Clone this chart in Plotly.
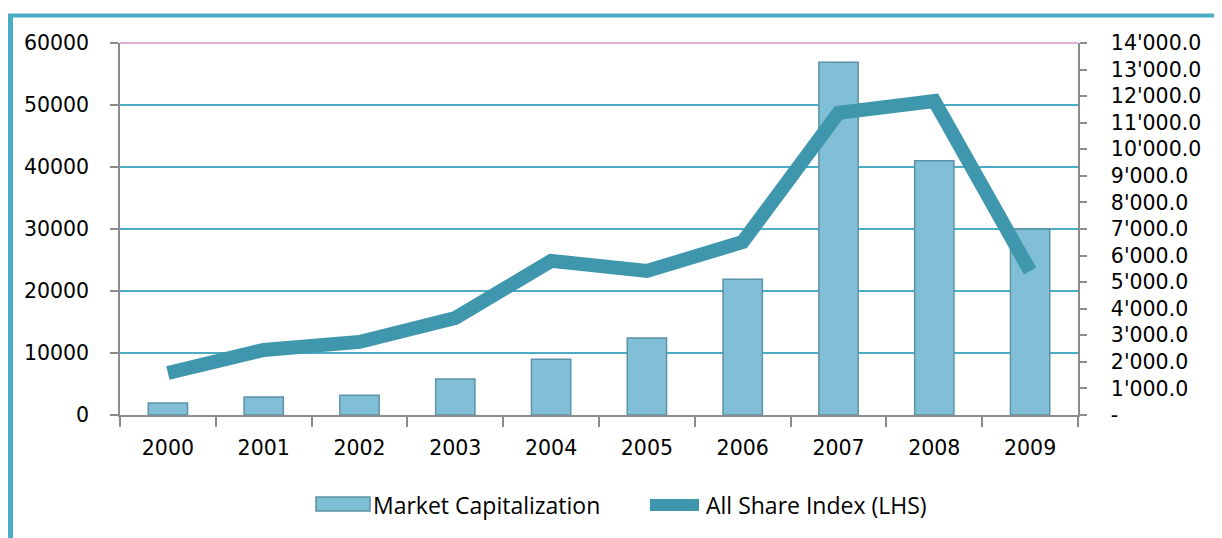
import plotly.graph_objects as go

years = ["2000", "2001", "2002", "2003", "2004", "2005", "2006", "2007", "2008", "2009"]
market_cap = [1950, 2900, 3200, 5800, 9000, 12400, 21900, 56900, 41000, 30000]
all_share_index = [1580, 2450, 2750, 3650, 5800, 5420, 6510, 11370, 11820, 5420]

right_ticks = list(range(0, 14001, 1000))
right_labels = ["-"] + [f"{v:,.1f}".replace(",", "'") for v in right_ticks[1:]]
left_ticks = list(range(0, 60001, 10000))

TEAL = "#4BACC6"
LINE = "#3F97AE"
BAR = "#80BFD5"
BAR_EDGE = "#5B93A8"
GREY = "#8C8C8C"
tick_font = dict(family="DejaVu Sans", size=20.5, color="#000000")
legend_font = dict(family="Open Sans", size=23, color="#000000")

# the page body adds an 8px offset; work in reference pixels and subtract it
OFF = 8
W, H = 1222 - OFF, 538 - OFF
PL, PR, PT, PB = 120, 1078, 43, 415  # plot area in reference pixels
L, T = PL - OFF, PT - OFF
R = W - (PR - OFF)
B = H - (PB - OFF)
pw, ph = PR - PL, PB - PT

def px_x(px):
    return (px - PL) / pw

def px_y(py):
    return (PB - py) / ph

fig = go.Figure()
fig.add_trace(go.Bar(
    x=years, y=market_cap, name="Market Capitalization",
    marker=dict(color=BAR, line=dict(color=BAR_EDGE, width=1.5)),
    width=0.41, yaxis="y", showlegend=False,
))
fig.add_trace(go.Scatter(
    x=years, y=all_share_index, name="All Share Index (LHS)",
    mode="lines", line=dict(color=LINE, width=14), yaxis="y2", showlegend=False,
))

shapes = [
    # outer frame (left and top edges)
    dict(type="line", xref="paper", yref="paper", x0=px_x(10.5), x1=px_x(10.5),
         y0=px_y(14), y1=px_y(560), line=dict(color=TEAL, width=5), layer="below"),
    dict(type="line", xref="paper", yref="paper", x0=px_x(8), x1=px_x(1240),
         y0=px_y(15.5), y1=px_y(15.5), line=dict(color=TEAL, width=4), layer="below"),
    # top border of plot area
    dict(type="line", xref="paper", yref="paper", x0=0, x1=1, y0=1, y1=1,
         line=dict(color="#E3AFD3", width=2), layer="below"),
    # custom legend symbols
    dict(type="rect", xref="paper", yref="paper", x0=px_x(316), x1=px_x(370),
         y0=px_y(511), y1=px_y(497), fillcolor=BAR, line=dict(color=BAR_EDGE, width=1.5)),
    dict(type="line", xref="paper", yref="paper", x0=px_x(650), x1=px_x(699),
         y0=px_y(505), y1=px_y(505), line=dict(color=LINE, width=12)),
]

annotations = [
    dict(text="Market Capitalization", xref="paper", yref="paper", x=px_x(371), y=px_y(505),
         xanchor="left", yanchor="middle", showarrow=False, font=legend_font),
    dict(text="All Share Index (LHS)", xref="paper", yref="paper", x=px_x(704), y=px_y(505),
         xanchor="left", yanchor="middle", showarrow=False, font=legend_font),
]

fig.update_layout(
    width=W, height=H,
    margin=dict(l=L, r=R, t=T, b=B, pad=0),
    paper_bgcolor="white", plot_bgcolor="white",
    shapes=shapes, annotations=annotations,
    showlegend=False,
    xaxis=dict(
        type="category", showgrid=False, showline=True, linecolor=GREY, linewidth=1.5,
        ticks="outside", tickson="boundaries", ticklen=10, tickcolor=GREY, tickwidth=1.5,
        tickfont=tick_font, range=[-0.5, 9.5], ticklabelstandoff=14,
    ),
    yaxis=dict(
        range=[0, 60000], tickvals=left_ticks, ticktext=[str(v) for v in left_ticks],
        showgrid=True, gridcolor=TEAL, gridwidth=1.5, zeroline=False,
        showline=True, linecolor=GREY, linewidth=1.5, ticks="outside", ticklen=8,
        tickcolor=GREY, tickwidth=1.5, tickfont=tick_font, ticklabelstandoff=17,
    ),
    yaxis2=dict(
        range=[0, 14000], overlaying="y", side="right",
        tickvals=right_ticks, ticktext=right_labels, showgrid=False, zeroline=False,
        showline=True, linecolor=GREY, linewidth=1.5, ticks="outside", ticklen=7,
        tickcolor=GREY, tickwidth=1.5, tickfont=tick_font, ticklabelstandoff=20,
    ),
    bargap=0.59,
)

fig.write_html("out.html")
